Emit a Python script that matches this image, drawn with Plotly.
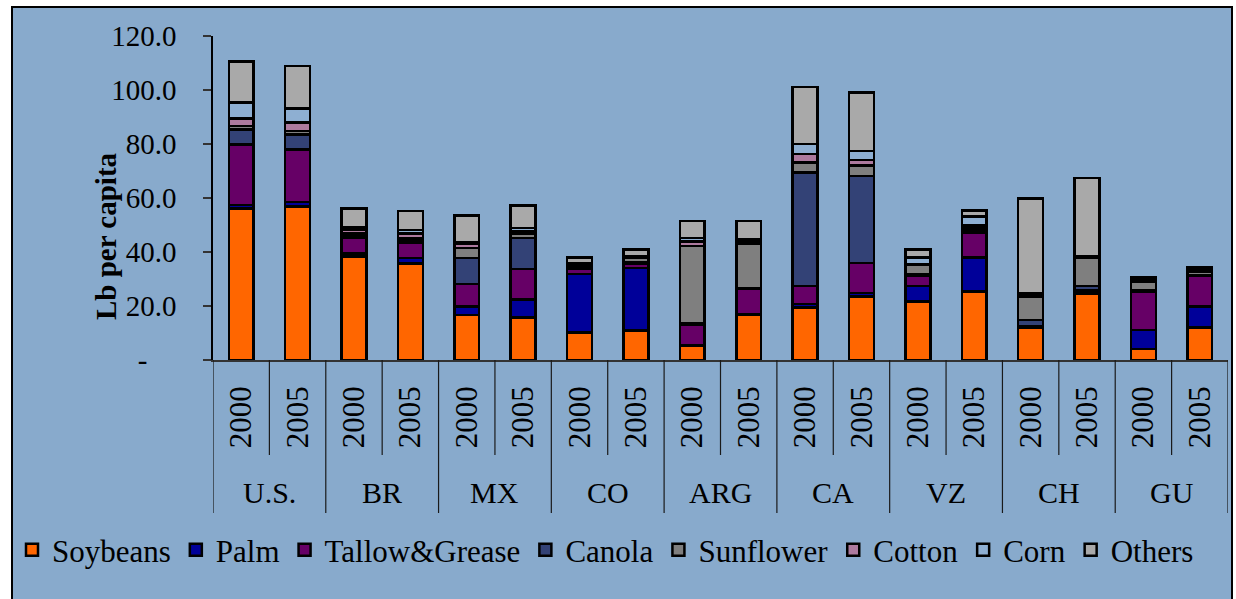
import plotly.graph_objects as go

# Per-capita consumption of fats and oils (lb per capita), by source
countries = ["U.S.", "BR", "MX", "CO", "ARG", "CA", "VZ", "CH", "GU"]
years = ["2000", "2005"]

soybeans = [56.2, 56.8, 38.3, 35.8, 16.7, 15.7, 10.1, 11.0, 5.2, 16.9, 19.5, 23.5, 21.6, 25.3, 12.0, 24.4, 4.1, 12.0]
palm = [1.2, 1.8, 1.2, 1.9, 3.1, 6.8, 21.8, 23.0, 0.3, 0.2, 1.2, 1.4, 5.8, 12.7, 0.3, 0.8, 7.0, 7.8]
tallow_grease = [22.5, 19.4, 5.8, 5.8, 8.3, 11.2, 1.8, 1.8, 7.7, 9.2, 6.7, 11.1, 3.7, 9.3, 0.3, 0.7, 14.2, 11.3]
canola = [5.5, 5.6, 1.0, 1.0, 9.6, 11.4, 0.8, 0.5, 0.3, 0.2, 42.0, 32.1, 0.5, 1.0, 2.2, 1.5, 0.4, 0.4]
sunflower = [1.3, 1.2, 0.8, 0.6, 3.7, 1.5, 0.6, 1.4, 28.8, 16.7, 3.7, 4.0, 3.6, 0.8, 8.7, 10.5, 3.3, 1.2]
cotton = [2.8, 3.1, 1.2, 1.8, 1.5, 1.0, 0.4, 0.3, 1.6, 0.8, 3.2, 2.0, 0.4, 0.7, 0.7, 0.2, 0.3, 0.5]
corn = [5.8, 5.3, 0.9, 1.3, 0.8, 1.2, 0.3, 0.3, 1.2, 0.7, 3.7, 3.3, 2.4, 3.3, 0.7, 0.2, 0.4, 0.5]
others = [15.2, 15.7, 7.0, 7.0, 9.8, 8.4, 2.2, 2.6, 6.4, 6.8, 21.2, 21.7, 3.0, 2.2, 35.0, 29.2, 0.8, 0.6]

y_ticks = [0, 20, 40, 60, 80, 100, 120]

series = [
    ("Soybeans", soybeans, "#FF6600"),
    ("Palm", palm, "#000099"),
    ("Tallow&Grease", tallow_grease, "#660066"),
    ("Canola", canola, "#334276"),
    ("Sunflower", sunflower, "#7F7F7F"),
    ("Cotton", cotton, "#AD7A9E"),
    ("Corn", corn, "#8EAFD2"),
    ("Others", others, "#A9A9A9"),
]

BG = "#88AACC"
FONT = "Liberation Serif"

# Plot-area geometry in pixels (used to place decorations in paper units)
W, H = 1236, 599
L, R, T, B = 213, 1228, 36, 360


def xp(px):
    return (px - L) / (R - L)


def yp(py):
    return (B - py) / (B - T)


n_years = len(years)
positions = [c * n_years + j for c in range(len(countries)) for j in range(n_years)]
year_labels = [years[j] for c in range(len(countries)) for j in range(n_years)]

fig = go.Figure()
for name, vals, color in series:
    fig.add_trace(go.Bar(
        x=positions, y=vals, name=name, width=0.44,
        marker=dict(color=color, line=dict(color="black", width=2.5)),
    ))

shapes = [
    # outer frame of the chart
    dict(type="rect", xref="paper", yref="paper", layer="below",
         x0=xp(12), x1=xp(1232), y0=yp(620), y1=yp(7),
         fillcolor=BG, line=dict(color="black", width=2)),
]
# country group dividers and year separators beneath the axis
for c in range(len(countries) + 1):
    shapes.append(dict(type="line", xref="x", yref="paper",
                       x0=c * n_years - 0.5, x1=c * n_years - 0.5,
                       y0=0, y1=yp(513), line=dict(color="#1a1a1a", width=1.2)))
for c in range(len(countries)):
    for j in range(1, n_years):
        shapes.append(dict(type="line", xref="x", yref="paper",
                           x0=c * n_years + j - 0.5, x1=c * n_years + j - 0.5,
                           y0=0, y1=yp(455), line=dict(color="#1a1a1a", width=1.2)))

annotations = [
    dict(text=name, xref="x", yref="paper", x=c * n_years + (n_years - 1) / 2,
         y=yp(492), showarrow=False, yanchor="middle",
         font=dict(family=FONT, size=30, color="black"))
    for c, name in enumerate(countries)
]
annotations.append(dict(
    text="<b>Lb per capita</b>", xref="paper", yref="paper",
    x=xp(106), y=yp(236), textangle=-90, showarrow=False,
    xanchor="center", yanchor="middle",
    font=dict(family=FONT, size=29, color="black"),
))

fig.update_layout(
    width=W, height=H,
    margin=dict(l=L, r=W - R, t=T, b=H - B, pad=0),
    paper_bgcolor="white",
    plot_bgcolor="rgba(0,0,0,0)",
    barmode="stack",
    font=dict(family=FONT, color="black"),
    showlegend=True,
    legend=dict(
        orientation="h", x=xp(12), xanchor="left", y=yp(550), yanchor="middle",
        font=dict(family=FONT, size=31, color="black"),
        bgcolor="rgba(0,0,0,0)", traceorder="normal",
        itemwidth=30,
    ),
    xaxis=dict(
        range=[-0.5, positions[-1] + 0.5],
        tickvals=positions, ticktext=year_labels, tickangle=-90,
        ticks="", showgrid=False, zeroline=False,
        showline=True, linecolor="#333333", linewidth=1.5,
        tickfont=dict(family=FONT, size=31, color="black"),
        ticklabelstandoff=12,
    ),
    yaxis=dict(
        range=[0, 120], tickvals=y_ticks,
        ticktext=["-\u00a0\u00a0\u00a0\u00a0"] + [f"{v:.1f}" for v in y_ticks[1:]],
        ticks="outside", ticklen=8, tickwidth=1.5, tickcolor="#333333",
        showgrid=False, zeroline=False,
        showline=True, linecolor="black", linewidth=1.5,
        tickfont=dict(family=FONT, size=29, color="black"),
        ticklabelstandoff=21,
    ),
    shapes=shapes,
    annotations=annotations,
)

fig.write_html("out.html")
